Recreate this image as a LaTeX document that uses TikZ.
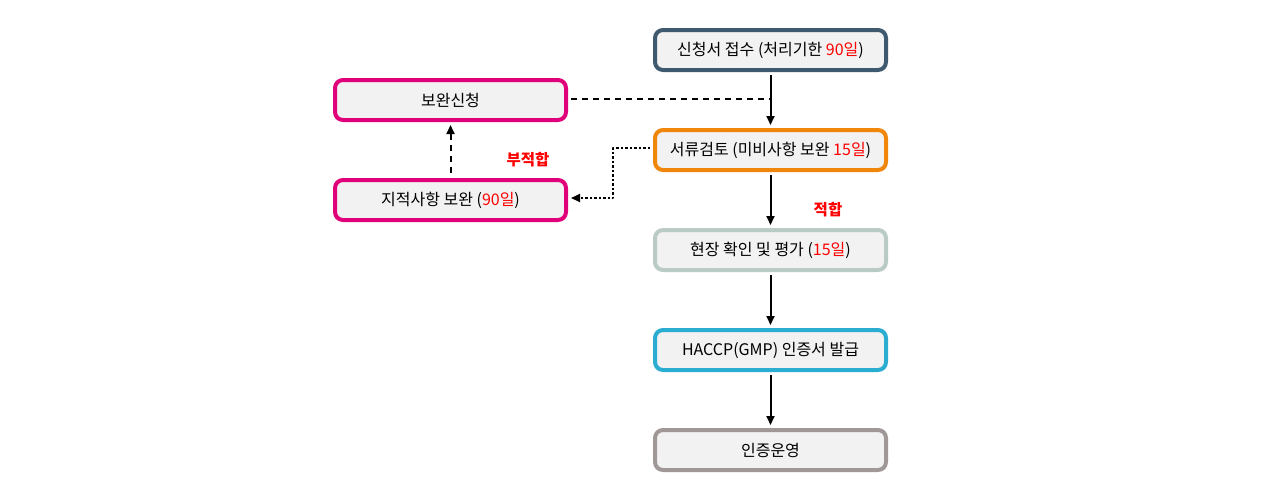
\documentclass[tikz,border=0pt]{standalone}
\usepackage{fontspec}
\setmainfont{Noto Sans CJK KR}
\usetikzlibrary{arrows.meta}
\usetikzlibrary{positioning}
\definecolor{slate}{HTML}{3F5A6E}
\definecolor{orng}{HTML}{F0860A}
\definecolor{sage}{HTML}{BACAC4}
\definecolor{cyan}{HTML}{2BACD1}
\definecolor{taupe}{HTML}{A09896}
\definecolor{magenta}{HTML}{E0007A}
\definecolor{boxfill}{HTML}{F2F2F2}
\definecolor{ok}{HTML}{FF0000}

\tikzset{
  stage/.style={draw=#1,fill=boxfill,line width=4pt,rounded corners=8pt,
    minimum width=231pt,minimum height=40pt,inner sep=0pt,
    font=\fontsize{16}{19}\selectfont},
  flow/.style={->,line width=2pt},
  verdict/.style={text=ok,font=\fontsize{15.5}{18}\selectfont\bfseries}
}

\begin{document}
\begin{tikzpicture}[line cap=round,line join=round,>={Triangle[width=8pt,length=9pt]},x=1pt,y=-1pt]
\useasboundingbox (0,0) rectangle (1270,499);
% right column
\node[stage=slate] (apply) at (770.5,50) {신청서 접수 (처리기한 {\color{ok}90일})};
\node[stage=orng] (review) at (770.5,150) {서류검토 (미비사항 보완 {\color{ok}15일})};
\node[stage=sage] (visit) at (770.5,250) {현장 확인 및 평가 ({\color{ok}15일})};
\node[stage=cyan] (issue) at (770.5,350) {HACCP(GMP) 인증서 발급};
\node[stage=taupe] (run) at (770.5,450) {인증운영};
% left column
\node[stage=magenta] (supp) at (450.5,100) {보완신청};
\node[stage=magenta] (fix) at (450.5,200) {지적사항 보완 ({\color{ok}90일})};
% labels
\node[verdict] (fail) at (528,160) {부적합};
\node[verdict] (pass) at (828,210) {적합};
% arrows
\foreach \a/\b in {apply/review,review/visit,visit/issue,issue/run}
\draw[flow,line cap=butt] ([yshift=-3pt]\a.south) -- ([yshift=3pt]\b.north);
\draw[line width=2pt,dash pattern=on 6pt off 5pt,line cap=butt] ([xshift=3pt,yshift=1pt]supp.east) -- ([yshift=1pt]supp.east -| review.north);
\draw[flow,dash pattern=on 6pt off 5pt,line cap=butt] ([yshift=5pt]fix.north) -- ([yshift=-3pt]supp.south);
\draw[flow,dash pattern=on 2.5pt off 2pt,line cap=butt] ([xshift=-3pt,yshift=2pt]review.west) -- ++(-37,0) |- ([xshift=3pt,yshift=2pt]fix.east);
\end{tikzpicture}
\end{document}
